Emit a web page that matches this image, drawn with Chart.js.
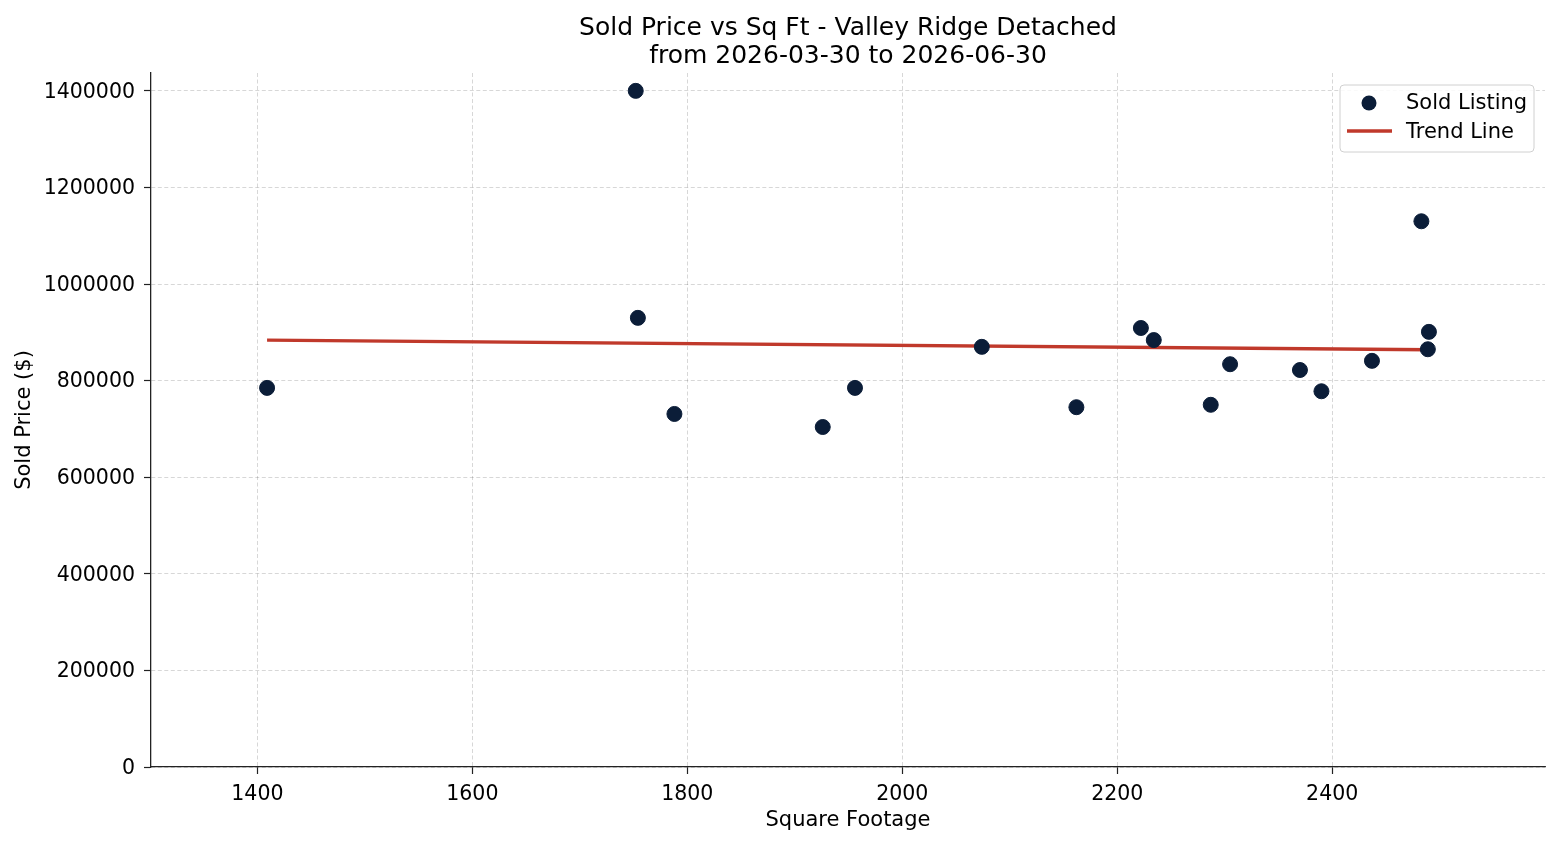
<!DOCTYPE html>
<html>
<head>
<meta charset="utf-8">
<script src="https://cdn.jsdelivr.net/npm/chart.js@4.4.1/dist/chart.umd.min.js"></script>
<style>
  html, body { margin: 0; padding: 0; background: #fff; }
  #wrap { width: 1560px; height: 845px; }
</style>
</head>
<body>
<div id="wrap"><canvas id="priceChart" width="1560" height="845"></canvas></div>
<script>
// data
const sqFt = [1409, 1752, 1754, 1788, 1926, 1956, 2074, 2162, 2222, 2234, 2287, 2305, 2370, 2390, 2437, 2483, 2489, 2490];
const soldPrice = [785000, 1400000, 930000, 731000, 704000, 785000, 870000, 745000, 909000, 884000, 750000, 834000, 822000, 778000, 841000, 1130000, 865000, 901000];
const trendX = [1409, 2490];
const trendY = [884000, 864000];
const xTicks = [1400, 1600, 1800, 2000, 2200, 2400];
const yTicks = [0, 200000, 400000, 600000, 800000, 1000000, 1200000, 1400000];
const titleLines = ["Sold Price vs Sq Ft - Valley Ridge Detached", "from 2026-03-30 to 2026-06-30"];

const FONT = "'DejaVu Sans', sans-serif";
const NAVY = "#0b1d38";
const RED = "#c0392b";

const soldPts = sqFt.map((x, i) => ({ x: x, y: soldPrice[i] }));
const trendPts = trendX.map((x, i) => ({ x: x, y: trendY[i] }));

const decorPlugin = {
    id: "decor",
    afterDraw(chart) {
        const ctx = chart.ctx;
        const a = chart.chartArea;
        const cx = (a.left + a.right) / 2;
        ctx.save();
        ctx.fillStyle = "#000";
        ctx.textAlign = "center";
        ctx.textBaseline = "middle";
        ctx.font = "25px " + FONT;
        ctx.fillText(titleLines[0], cx, 28);
        ctx.fillText(titleLines[1], cx, 56);

        ctx.font = "21px " + FONT;
        ctx.fillText("Square Footage", cx, 821);
        ctx.save();
        ctx.translate(25, (a.top + a.bottom) / 2);
        ctx.rotate(-Math.PI / 2);
        ctx.fillText("Sold Price ($)", 0, 0);
        ctx.restore();

        // legend box
        const lx = 1340, ly = 85, lw = 194, lh = 67, r = 4;
        ctx.beginPath();
        ctx.moveTo(lx + r, ly);
        ctx.arcTo(lx + lw, ly, lx + lw, ly + lh, r);
        ctx.arcTo(lx + lw, ly + lh, lx, ly + lh, r);
        ctx.arcTo(lx, ly + lh, lx, ly, r);
        ctx.arcTo(lx, ly, lx + lw, ly, r);
        ctx.closePath();
        ctx.fillStyle = "rgba(255,255,255,0.85)";
        ctx.fill();
        ctx.strokeStyle = "#d0d0d0";
        ctx.lineWidth = 1;
        ctx.stroke();

        ctx.fillStyle = NAVY;
        ctx.beginPath();
        ctx.arc(1369, 103, 7.5, 0, Math.PI * 2);
        ctx.fill();
        ctx.strokeStyle = RED;
        ctx.lineWidth = 3.3;
        ctx.beginPath();
        ctx.moveTo(1347, 131);
        ctx.lineTo(1392, 131);
        ctx.stroke();

        ctx.fillStyle = "#000";
        ctx.textAlign = "left";
        ctx.font = "21px " + FONT;
        ctx.fillText("Sold Listing", 1406, 104);
        ctx.fillText("Trend Line", 1406, 133);
        ctx.restore();
    }
};

function fixedTicks(list) {
    return function (scale) {
        scale.ticks = list.map(v => ({ value: v }));
    };
}

const gridOpts = {
    color: "rgba(0,0,0,0.2)",
    lineWidth: 0.8,
    tickColor: "#222",
    tickBorderDash: [],
    tickWidth: 1.2,
    tickLength: 7
};
const borderOpts = { color: "#222", width: 1.3, dash: [4, 2.5] };

new Chart(document.getElementById("priceChart").getContext("2d"), {
    type: "scatter",
    data: {
        datasets: [
            { label: "Sold Listing", data: soldPts, backgroundColor: NAVY, borderColor: NAVY, pointRadius: 7.5, pointHoverRadius: 7.5, order: 0 },
            { type: "line", label: "Trend Line", data: trendPts, borderColor: RED, borderWidth: 3.3, pointRadius: 0, fill: false, order: 1 }
        ]
    },
    options: {
        responsive: false,
        animation: false,
        layout: { padding: { top: 73, right: 15, left: 0, bottom: 0 } },
        plugins: { legend: { display: false }, tooltip: { enabled: false }, title: { display: false } },
        scales: {
            x: {
                type: "linear",
                min: 1301,
                max: 2598,
                afterFit(s) { s.height = 78; },
                afterBuildTicks: fixedTicks(xTicks),
                grid: gridOpts,
                border: borderOpts,
                ticks: { padding: 8, color: "#000", font: { family: FONT, size: 20.5 }, maxRotation: 0, autoSkip: false, callback: v => String(v) }
            },
            y: {
                type: "linear",
                min: 0,
                max: 1437000,
                afterFit(s) { s.width = 151; },
                afterBuildTicks: fixedTicks(yTicks),
                grid: gridOpts,
                border: borderOpts,
                ticks: { padding: 9, labelOffset: 1.5, color: "#000", font: { family: FONT, size: 20.5 }, autoSkip: false, callback: v => String(v) }
            }
        }
    },
    plugins: [decorPlugin]
});
</script>
</body>
</html>
